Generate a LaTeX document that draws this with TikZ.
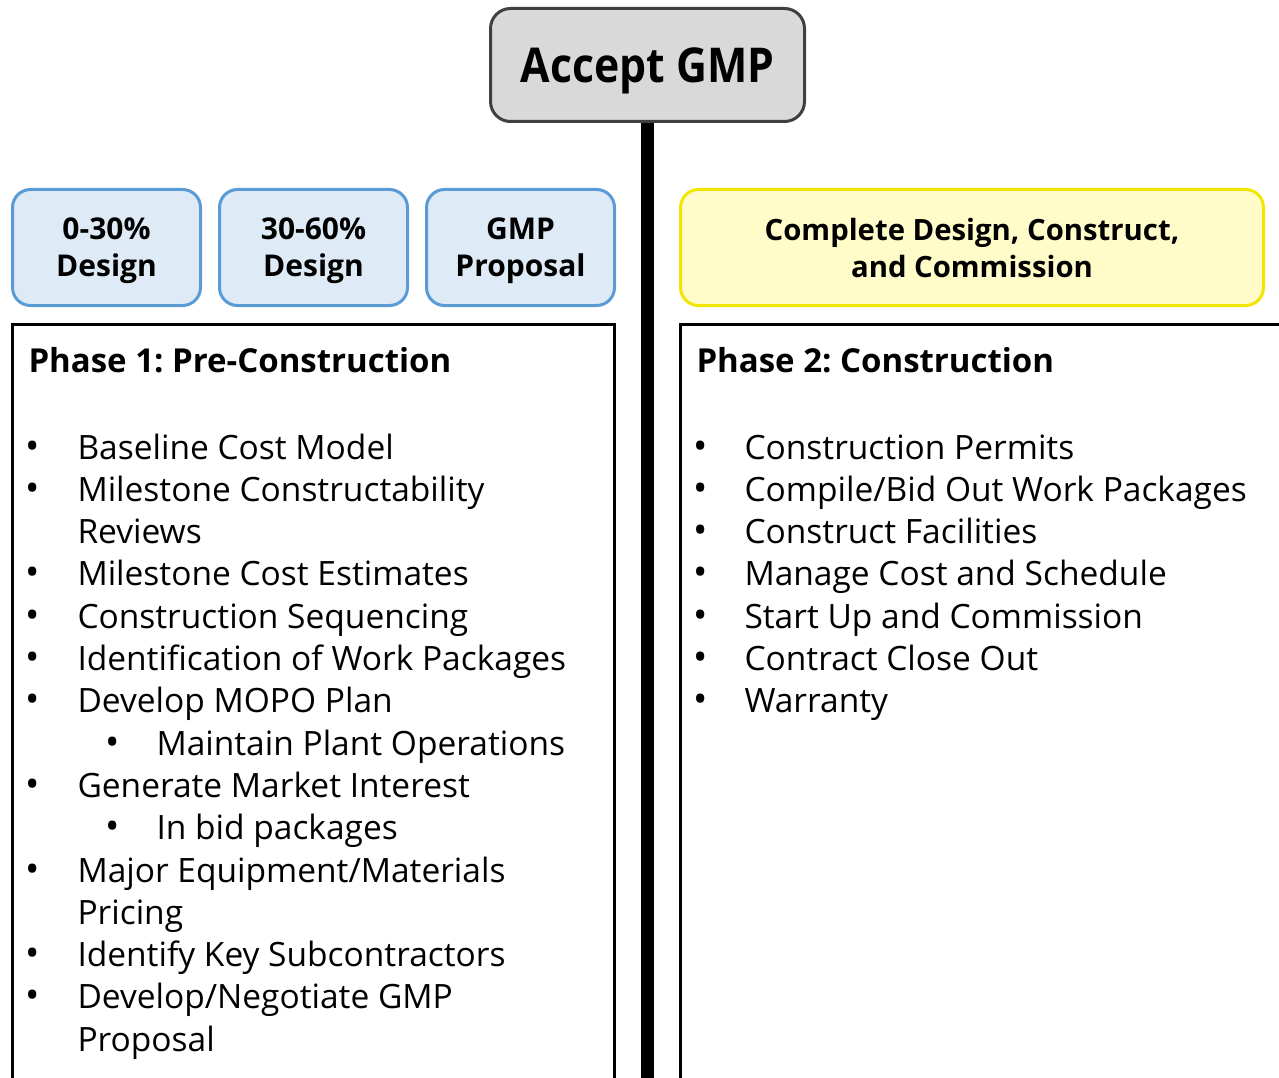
\documentclass[tikz,border=0pt]{standalone}
\usepackage{fontspec}
\setmainfont{Open Sans}
\usetikzlibrary{positioning}

\definecolor{gmpgray}{HTML}{D9D9D9}
\definecolor{gmpedge}{HTML}{404040}
\definecolor{designfill}{HTML}{DEEBF7}
\definecolor{designedge}{HTML}{5B9BD5}
\definecolor{buildfill}{HTML}{FFFCC9}
\definecolor{buildedge}{HTML}{F3E500}

\frenchspacing

\begin{document}
\begin{tikzpicture}[
    x=1pt,
    y=-1pt,
    line width=3pt
]


\tikzstyle{gate}=[
    draw=gmpedge,
    fill=gmpgray,
    rounded corners=20pt,
    minimum width=314pt,
    minimum height=113pt,
    text depth=0pt,
    font=\bfseries\fontsize{48}{56}\selectfont\addfontfeatures{FakeStretch=0.89}
]
\tikzstyle{stage}=[
    draw=designedge,
    fill=designfill,
    rounded corners=18pt,
    minimum width=188pt,
    minimum height=116pt,
    align=center,
    text depth=0pt,
    font=\bfseries\fontsize{30}{37}\selectfont
]
\tikzstyle{item}=[
    anchor=base west,
    inner sep=0pt,
    font=\fontsize{33.5}{40}\selectfont
]
\tikzstyle{dot}=[
    anchor=base,
    inner sep=0pt,
    font=\fontsize{38}{40}\selectfont
]
\tikzstyle{phase}=[
    anchor=base west,
    inner sep=0pt,
    font=\bfseries\fontsize{33}{38}\selectfont
]

\useasboundingbox (0,0) rectangle (1279,1078);


\node[gate] (accept) at (647.5,65) {Accept GMP};
\coordinate (spine end) at (647.5,1090);
\draw[line width=13pt] (accept.south) -- (spine end);


\node[stage] (d30) at (106.5,247.5) {0-30\%\\Design};
\node[stage, right=16pt of d30] (d60) {30-60\%\\Design};
\node[stage, right=16pt of d60] (prop) {GMP\\Proposal};
\node[stage, draw=buildedge, fill=buildfill, minimum width=583pt,
    font=\bfseries\fontsize{29.3}{37}\selectfont] (build) at (972,247.5)
    {Complete Design, Construct,\\and Commission};


\draw (12.5,1090) -- (12.5,324.5) -- (614.5,324.5) -- (614.5,1090);
\draw (680.5,1090) -- (680.5,324.5) -- (1290,324.5);


\node[phase] (p1) at (27,372) {Phase 1: Pre-Construction};
\node[phase] (p2) at (695,372) {Phase 2: Construction};


\foreach \bx/\tx/\bul/\txt [count=\i from 0] in {
    33/76/\textbullet/{Baseline Cost Model},
    33/76/\textbullet/{Milestone Constructability},
    33/76/{}/{Reviews},
    33/76/\textbullet/{Milestone Cost Estimates},
    33/76/\textbullet/{Construction Sequencing},
    33/76/\textbullet/{Identification of Work Packages},
    33/76/\textbullet/{Develop MOPO Plan},
    113/155/\textbullet/{Maintain Plant Operations},
    33/76/\textbullet/{Generate Market Interest},
    113/155/\textbullet/{In bid packages},
    33/76/\textbullet/{Major Equipment/Materials},
    33/76/{}/{Pricing},
    33/76/\textbullet/{Identify Key Subcontractors},
    33/76/\textbullet/{Develop/Negotiate GMP},
    33/76/{}/{Proposal}}
{
    \node[dot] (lb\i) at (\bx,459+42.3*\i) {\bul};
    \node[item] (l\i) at (\tx,459+42.3*\i) {\txt};
}


\foreach \txt [count=\i from 0] in {
    {Construction Permits},
    {Compile/Bid Out Work Packages},
    {Construct Facilities},
    {Manage Cost and Schedule},
    {Start Up and Commission},
    {Contract Close Out},
    {Warranty}}
{
    \node[dot] (rb\i) at (701,459+42.3*\i) {\textbullet};
    \node[item] (r\i) at (743,459+42.3*\i) {\txt};
}

\end{tikzpicture}
\end{document}
